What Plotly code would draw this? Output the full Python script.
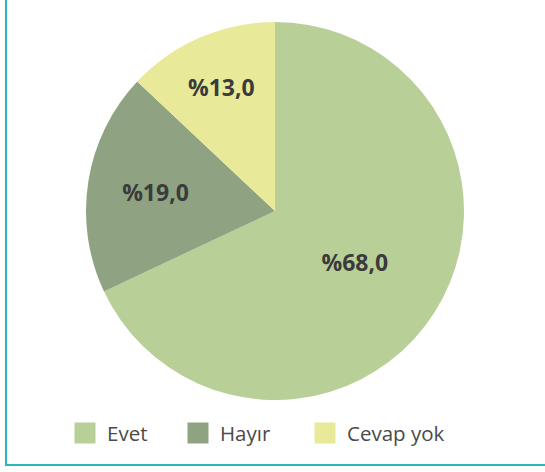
import plotly.graph_objects as go

labels = ["Evet", "Hayır", "Cevap yok"]
values = [68.0, 19.0, 13.0]
text_labels = ["%68,0", "%19,0", "%13,0"]
colors = ["#B8D098", "#8FA382", "#E8EA9A"]
legend_x = [63, 176, 303]  # left edge of each legend entry, px

fig = go.Figure(go.Pie(
    labels=labels,
    values=values,
    text=text_labels,
    textinfo="text",
    textposition="inside",
    insidetextorientation="horizontal",
    sort=False,
    direction="clockwise",
    rotation=0,
    marker=dict(colors=colors, line=dict(width=0)),
    textfont=dict(family="Open Sans", size=23, color="#3B3B3B", weight="bold"),
    hoverinfo="label+percent",
    showlegend=False,
))

legend_ids = ["legend", "legend2", "legend3"]
for name, col, lid in zip(labels, colors, legend_ids):
    fig.add_trace(go.Scatter(
        x=[None], y=[None], mode="markers", name=name, legend=lid,
        marker=dict(symbol="square", size=16, color=col, line=dict(color=col, width=5)),
        showlegend=True, hoverinfo="skip",
    ))

fig.add_shape(type="rect", xref="paper", yref="paper",
              x0=-0.0978, x1=1.3, y0=-0.172, y1=1.3,
              line=dict(color="#27B7BD", width=2), fillcolor="rgba(0,0,0,0)")

legend_common = dict(orientation="h", xref="container", xanchor="left",
                     yref="container", y=0.082, yanchor="middle",
                     font=dict(family="Open Sans", size=20.5, color="#4A4A4A"),
                     itemsizing="trace", itemwidth=34, bgcolor="rgba(0,0,0,0)")

fig.update_layout(
    width=545, height=472,
    margin=dict(l=50, r=45, t=22, b=72),
    paper_bgcolor="white",
    plot_bgcolor="white",
    xaxis=dict(visible=False),
    yaxis=dict(visible=False),
    showlegend=True,
    legend=dict(x=legend_x[0] / 545, **legend_common),
    legend2=dict(x=legend_x[1] / 545, **legend_common),
    legend3=dict(x=legend_x[2] / 545, **legend_common),
)

fig.write_html("out.html", config={"displayModeBar": False},
               post_script="document.body.style.margin='0';")
